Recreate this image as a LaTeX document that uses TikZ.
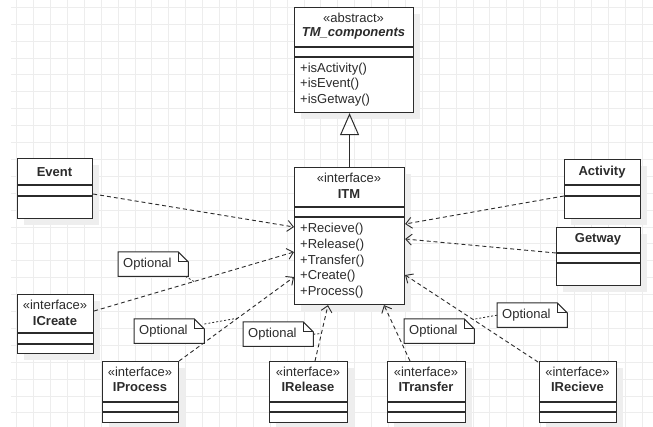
\documentclass[tikz,border=0pt]{standalone}
\usepackage{fontspec}
\setmainfont{Liberation Sans}
\usetikzlibrary{arrows.meta,calc}

\definecolor{ink}{HTML}{2B2B2B}
\definecolor{gridc}{HTML}{EDEDED}
\definecolor{shadowgray}{HTML}{EEEEEE}

\tikzset{
  cls/.style={draw=ink, line width=1.1pt, fill=white, inner sep=0pt},
  txt/.style={font=\fontsize{13}{15}\selectfont, text=ink, inner sep=0pt},
  bold/.style={txt, font=\fontsize{13}{15}\selectfont\bfseries},
  dep/.style={draw=ink, line width=0.9pt, dash pattern=on 4pt off 3pt,
              -{Straight Barb[length=6pt,width=11pt,line width=0.9pt]}},
  notelink/.style={draw=ink, line width=0.8pt, dash pattern=on 2pt off 2pt},
  noteframe/.style={draw=ink, line width=1pt, fill=white},
}

% class box: name, x, y, width, height, first divider, second divider
\newcommand\classbox[7]{%
  \fill[shadowgray] (#2+7,#3+7) rectangle ++(#4,#5);
  \node[cls, minimum width=#4pt, minimum height=#5pt, anchor=north west] (#1) at (#2,#3) {};
  \draw[ink, line width=1.1pt] ($(#1.north west)+(0,#6)$) -- ($(#1.north east)+(0,#6)$);
  \draw[ink, line width=1.1pt] ($(#1.north west)+(0,#7)$) -- ($(#1.north east)+(0,#7)$);
}

% note with a folded corner: name, x, y
\newcommand\notebox[3]{%
  \node[minimum width=70pt, minimum height=24pt, inner sep=0pt, anchor=north west] (#1) at (#2,#3) {};
  \draw[noteframe] (#1.north west) -- ($(#1.north east)+(-10,0)$) -- ($(#1.north east)+(0,10)$)
     -- (#1.south east) -- (#1.south west) -- cycle;
  \draw[ink, line width=1pt] ($(#1.north east)+(-10,0)$) -- ++(0,10) -- ++(10,0);
  \node[txt, anchor=west] at ($(#1.west)+(5,0)$) {Optional};
}

\begin{document}
\begin{tikzpicture}[x=1pt, y=-1pt]
\useasboundingbox (0,0) rectangle (653,427);
\fill[white] (0,0) rectangle (653,427);

% background grid
\foreach \i in {0,...,38} {
  \draw[gridc, line width=0.9pt] (16.7+16.9*\i, 0) -- (16.7+16.9*\i, 427);
}
\foreach \j in {0,...,25} {
  \draw[gridc, line width=0.9pt] (11, 7.3+16.9*\j) -- (653, 7.3+16.9*\j);
}

% abstract base class
\classbox{tm}{294}{7}{119}{105}{40}{50}
\node[txt] at (353.5,18) {«abstract»};
\node[bold, font=\fontsize{13}{15}\selectfont\bfseries\itshape] at (353.5,33) {TM\_components};
\node[txt, anchor=west] at (300,69) {+isActivity()};
\node[txt, anchor=west] at (300,84) {+isEvent()};
\node[txt, anchor=west] at (300,100) {+isGetway()};

% interface ITM
\classbox{itm}{294}{167}{110}{137}{40}{50}
\node[txt] at (349,178) {«interface»};
\node[bold] at (349,194) {ITM};
\node[txt, anchor=west] at (300,229) {+Recieve()};
\node[txt, anchor=west] at (300,245) {+Release()};
\node[txt, anchor=west] at (300,261) {+Transfer()};
\node[txt, anchor=west] at (300,276) {+Create()};
\node[txt, anchor=west] at (300,292) {+Process()};

% plain classes
\classbox{event}{17}{158}{75}{60}{27}{38}
\node[bold] at (54.5,172) {Event};
\classbox{activity}{564}{159}{76}{59}{26}{37}
\node[bold] at (602,172) {Activity};
\classbox{getway}{556}{227}{84}{58}{26}{36}
\node[bold] at (598,239) {Getway};

% interfaces
\classbox{icreate}{17}{294}{76}{59}{39}{50}
\node[txt] at (55,305) {«interface»};
\node[bold] at (55,321) {ICreate};
\classbox{iprocess}{102}{361}{76}{61}{41}{51}
\node[txt] at (140,372) {«interface»};
\node[bold] at (140,387) {IProcess};
\classbox{irelease}{269}{361}{78}{61}{41}{51}
\node[txt] at (308,372) {«interface»};
\node[bold] at (308,387) {IRelease};
\classbox{itransfer}{387}{361}{78}{61}{41}{51}
\node[txt] at (426,372) {«interface»};
\node[bold] at (426,387) {ITransfer};
\classbox{irecieve}{539}{361}{77}{61}{41}{51}
\node[txt] at (577.5,372) {«interface»};
\node[bold] at (577.5,387) {IRecieve};

% generalisation
\draw[ink, line width=1pt, -{Triangle[open, length=22pt, width=19pt, line width=1pt]}]
  (itm.north) -- (itm.north |- tm.south);

% dependencies
\draw[dep] ($(event.north east)+(0,36)$) -- ($(itm.north west)+(0,60)$);
\draw[dep] ($(activity.north west)+(0,37)$) -- ($(itm.north east)+(0,57)$);
\draw[dep] ($(getway.north west)+(0,26)$) -- ($(itm.north east)+(0,72)$);
\draw[dep] ($(icreate.north east)+(0,17)$) -- coordinate[pos=0.5] (c1) ($(itm.north west)+(0,85)$);
\draw[dep] (iprocess.north east) -- coordinate[pos=0.51] (c2) ($(itm.north west)+(0,110)$);
\draw[dep] ($(irelease.north west)+(46,0)$) -- coordinate[pos=0.49] (c3) ($(itm.south west)+(34,0)$);
\draw[dep] ($(itransfer.north west)+(23,0)$) -- ($(itm.south west)+(90,0)$);
\draw[dep] ($(irecieve.north west)+(-1,1)$) -- coordinate[pos=0.49] (c5) ($(itm.north east)+(0,108)$);

% notes
\notebox{n1}{118}{252}
\notebox{n2}{134}{319}
\notebox{n3}{243}{322}
\notebox{n4}{404}{319}
\notebox{n5}{497}{303}

\draw[notelink] ($(n1.south east)+(-3,0)$) -- (c1);
\draw[notelink] ($(n2.north east)+(0,5)$) -- (c2);
\draw[notelink] (n3.east) -- (c3);
\draw[notelink] (n5.west) -- (c5);
\end{tikzpicture}
\end{document}
